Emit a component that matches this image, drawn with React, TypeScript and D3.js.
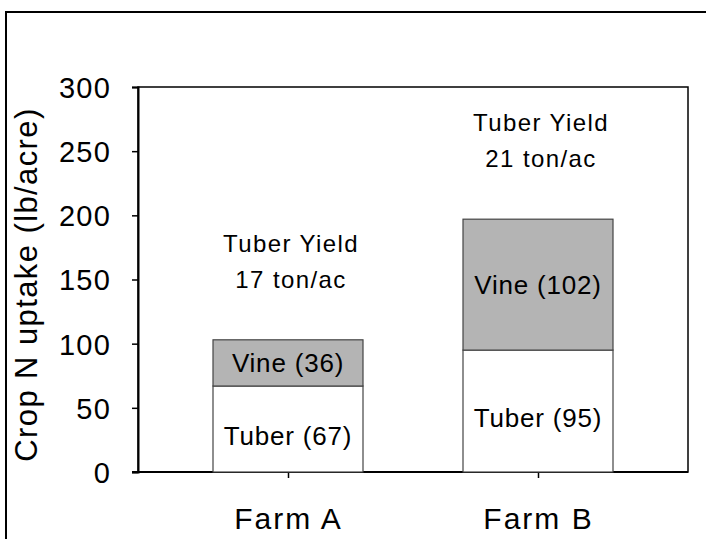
import React, { useEffect, useRef } from 'react';
import * as d3 from 'd3';

const farms = ['Farm A', 'Farm B'];
const tuberN = [67, 95];
const vineN = [36, 102];
const tuberYield = [17, 21];
const yTicks = [0, 50, 100, 150, 200, 250, 300];

const App = () => {
  const chartRef = useRef<SVGSVGElement>(null);

  useEffect(() => {
    const svg = d3.select(chartRef.current);
    svg.selectAll('*').remove();

    const width = 706;
    const height = 539;
    const margin = { top: 87, right: 18, bottom: 67, left: 138 };
    const font = 'Liberation Sans, Arial, sans-serif';

    // outer frame (runs off the page on the right and bottom)
    svg.append('rect')
      .attr('x', 6).attr('y', 12)
      .attr('width', width + 10).attr('height', height + 10)
      .attr('fill', 'none').attr('stroke', '#000').attr('stroke-width', 2);

    const x = d3.scalePoint<string>()
      .domain(farms)
      .range([margin.left, width - margin.right])
      .padding(0.6);

    const y = d3.scaleLinear()
      .domain([0, 300])
      .range([height - margin.bottom, margin.top]);

    const barW = 150;
    const g = svg.append('g');

    // plot frame
    g.append('rect')
      .attr('x', margin.left).attr('y', margin.top)
      .attr('width', width - margin.right - margin.left)
      .attr('height', y(0) - margin.top)
      .attr('fill', 'none').attr('stroke', '#000').attr('stroke-width', 1.5);

    // Y axis
    const yAxis = g.append('g')
      .attr('transform', `translate(${margin.left},0)`)
      .call(d3.axisLeft(y).tickValues(yTicks).tickSize(6).tickPadding(21));
    yAxis.select('.domain').attr('stroke-width', 2);
    yAxis.selectAll('line').attr('stroke-width', 1.5);
    yAxis.selectAll('text')
      .attr('font-family', font)
      .attr('font-size', 29)
      .attr('letter-spacing', 1.2)
      .attr('fill', '#000')
      .attr('dy', '0.36em');

    // X axis
    const xAxis = g.append('g')
      .attr('transform', `translate(0,${y(0)})`)
      .call(d3.axisBottom(x).tickSize(6).tickPadding(30));
    xAxis.select('.domain').remove();
    xAxis.selectAll('line').attr('stroke-width', 1.5);
    xAxis.selectAll('text')
      .attr('font-family', font)
      .attr('font-size', 30)
      .attr('letter-spacing', 2)
      .attr('fill', '#000')
      .attr('dy', '0.71em');
    g.append('line')
      .attr('x1', margin.left - 6).attr('x2', width - margin.right)
      .attr('y1', y(0)).attr('y2', y(0))
      .attr('stroke', '#000').attr('stroke-width', 2);

    // Y title
    svg.append('text')
      .attr('transform', `translate(37,${(margin.top + y(0)) / 2 + 5}) rotate(-90)`)
      .attr('text-anchor', 'middle')
      .attr('font-family', font)
      .attr('font-size', 31)
      .attr('letter-spacing', 1.4)
      .text('Crop N uptake (lb/acre)');

    const rows = farms.map((f, i) => ({ farm: f, tuber: tuberN[i], vine: vineN[i], yld: tuberYield[i] }));

    // Tuber segments
    g.selectAll('.tuber')
      .data(rows)
      .enter().append('rect')
      .attr('class', 'tuber')
      .attr('x', d => x(d.farm)! - barW / 2)
      .attr('width', barW)
      .attr('y', d => y(d.tuber))
      .attr('height', d => y(0) - y(d.tuber))
      .attr('fill', '#fff')
      .attr('stroke', '#444')
      .attr('stroke-width', 1.2);

    // Vine segments
    g.selectAll('.vine')
      .data(rows)
      .enter().append('rect')
      .attr('class', 'vine')
      .attr('x', d => x(d.farm)! - barW / 2)
      .attr('width', barW)
      .attr('y', d => y(d.tuber + d.vine))
      .attr('height', d => y(d.tuber) - y(d.tuber + d.vine))
      .attr('fill', '#b4b4b4')
      .attr('stroke', '#444')
      .attr('stroke-width', 1.2);

    const labelSize = 26;
    g.selectAll('.vlab')
      .data(rows)
      .enter().append('text')
      .attr('x', d => x(d.farm)!)
      .attr('y', d => (y(d.tuber) + y(d.tuber + d.vine)) / 2 + 9)
      .attr('text-anchor', 'middle')
      .attr('font-family', font)
      .attr('font-size', labelSize)
      .attr('letter-spacing', 0.8)
      .text(d => `Vine (${d.vine})`);

    g.selectAll('.tlab')
      .data(rows)
      .enter().append('text')
      .attr('x', d => x(d.farm)!)
      .attr('y', d => (y(0) + y(d.tuber)) / 2 + 16)
      .attr('text-anchor', 'middle')
      .attr('font-family', font)
      .attr('font-size', labelSize)
      .attr('letter-spacing', 0.8)
      .text(d => `Tuber (${d.tuber})`);

    // yield annotations
    const ann = g.selectAll('.ann')
      .data(rows)
      .enter().append('text')
      .attr('text-anchor', 'middle')
      .attr('font-family', font)
      .attr('font-size', 24)
      .attr('letter-spacing', 1.4);
    ann.append('tspan')
      .attr('x', d => x(d.farm)! + 3)
      .attr('y', d => y(d.tuber + d.vine) - 88)
      .text('Tuber Yield');
    ann.append('tspan')
      .attr('x', d => x(d.farm)! + 3)
      .attr('y', d => y(d.tuber + d.vine) - 52)
      .text(d => `${d.yld} ton/ac`);
  }, []);

  return (
    <svg
      ref={chartRef}
      width={706}
      height={539}
      style={{ position: 'absolute', left: 0, top: 0, background: '#fff' }}
    />
  );
};

export default App;
